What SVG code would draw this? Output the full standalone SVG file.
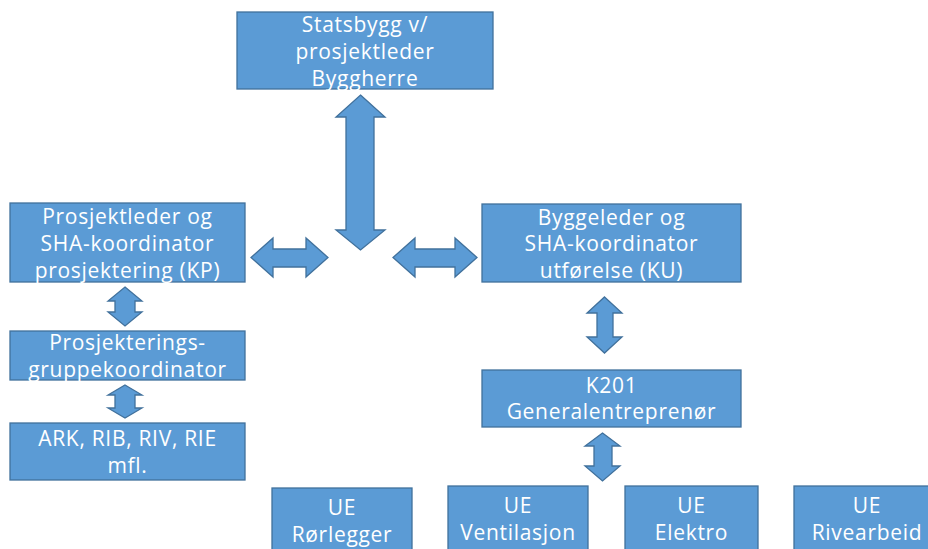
<svg xmlns="http://www.w3.org/2000/svg" width="928" height="549" viewBox="0 0 928 549">
<style>
.box{fill:#5B9BD5;stroke:#41719C;stroke-width:1.3}
.arr{fill:#5B9BD5;stroke:#41719C;stroke-width:1.3;stroke-linejoin:miter}
text{font-family:"Open Sans","Liberation Sans",sans-serif;font-size:21px;fill:#FFFFFF;text-anchor:middle;letter-spacing:0.7px}
</style>
<rect width="928" height="549" fill="#FFFFFF"/>
<g id="connectors">
<polygon class="arr" points="360.5,95 385,117 374,117 374,230 385,230 360.5,250 336,230 346,230 346,117 336,117"/>
<polygon class="arr" points="251,257.5 273,238 273,249 306,249 306,238 328,257.5 306,277 306,267 273,267 273,277"/>
<polygon class="arr" points="393,257.5 415,238 415,249 455,249 455,238 477,257.5 455,277 455,267 415,267 415,277"/>
<polygon class="arr" points="125,287 142,301 135,301 135,312 142,312 125,326 108,312 115,312 115,301 108,301"/>
<polygon class="arr" points="125,385 142,395 135,395 135,408 142,408 125,418 108,408 115,408 115,395 108,395"/>
<polygon class="arr" points="604.5,297 622,313 613,313 613,337 622,337 604.5,353 587,337 597,337 597,313 587,313"/>
<polygon class="arr" points="602.5,433 620,446 612,446 612,466 620,466 602.5,481 585,466 594,466 594,446 585,446"/>
</g>
<g id="statsbygg">
<rect class="box" x="237" y="12" width="256" height="77"/>
<text x="365" y="32">Statsbygg v/</text>
<text x="365" y="59">prosjektleder</text>
<text x="365" y="86">Byggherre</text>
</g>
<g id="kp">
<rect class="box" x="10" y="203" width="235" height="79"/>
<text x="127.5" y="224">Prosjektleder og</text>
<text x="127.5" y="251">SHA-koordinator</text>
<text x="127.5" y="278">prosjektering (KP)</text>
</g>
<g id="prosjekteringsgruppe">
<rect class="box" x="10" y="331" width="235" height="49"/>
<text x="127.5" y="350">Prosjekterings-</text>
<text x="127.5" y="377">gruppekoordinator</text>
</g>
<g id="ark">
<rect class="box" x="10" y="423" width="235" height="57"/>
<text x="127.5" y="446">ARK, RIB, RIV, RIE</text>
<text x="127.5" y="473">mfl.</text>
</g>
<g id="ku">
<rect class="box" x="482" y="204" width="259" height="78"/>
<text x="611.5" y="225">Byggeleder og</text>
<text x="611.5" y="251">SHA-koordinator</text>
<text x="611.5" y="278">utførelse (KU)</text>
</g>
<g id="k201">
<rect class="box" x="482" y="370" width="259" height="57"/>
<text x="611.5" y="393">K201</text>
<text x="611.5" y="419">Generalentreprenør</text>
</g>
<g id="ue-rorlegger">
<rect class="box" x="272" y="488" width="140" height="70"/>
<text x="342" y="515">UE</text>
<text x="342" y="542">Rørlegger</text>
</g>
<g id="ue-ventilasjon">
<rect class="box" x="448" y="486" width="140" height="72"/>
<text x="518" y="513">UE</text>
<text x="518" y="540">Ventilasjon</text>
</g>
<g id="ue-elektro">
<rect class="box" x="625" y="486" width="133" height="72"/>
<text x="691.5" y="513">UE</text>
<text x="691.5" y="540">Elektro</text>
</g>
<g id="ue-rivearbeid">
<rect class="box" x="794" y="486" width="146" height="72"/>
<text x="867" y="513">UE</text>
<text x="867" y="540">Rivearbeid</text>
</g>
</svg>
